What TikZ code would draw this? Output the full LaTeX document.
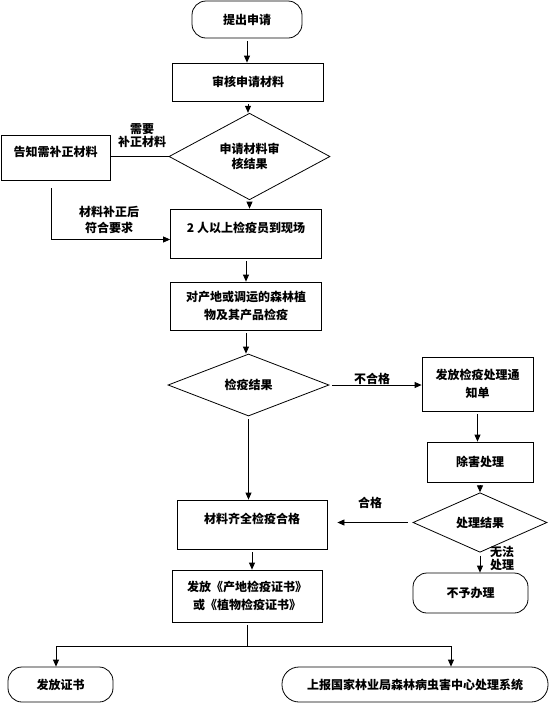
\documentclass[tikz,border=0pt]{standalone}
\usepackage{fontspec}
\setmainfont{Noto Sans CJK SC}
\usetikzlibrary{positioning,arrows.meta,shapes.geometric,calc}

\begin{document}
\begin{tikzpicture}[x=1pt,y=-1pt,line width=0.8pt,font=\bfseries\fontsize{12}{18}\selectfont,
    box/.style={draw,inner sep=0pt,minimum width=151pt,minimum height=38pt,align=center},
    term/.style={draw,rounded corners=14pt,inner sep=0pt,minimum height=37pt,align=center},
    decision/.style={draw,diamond,inner sep=0pt,minimum width=161pt,minimum height=61pt,align=center,font=\bfseries\fontsize{12}{15}\selectfont},
    raised/.style={text depth=13pt},
    flow/.style={-{Triangle[length=7pt,width=6pt]},shorten <=3pt}]
  \useasboundingbox (0,0) rectangle (549,705);
  % main column
  \node[term,minimum width=110pt] (start) at (247,19.5) {提出申请};
  \node[box] (check) at (248,82) {审核申请材料};
  \node[decision] (rev) at (249.5,156.5) {申请材料审\\核结果};
  \node[box,raised,minimum width=109pt,minimum height=45pt] (notify) at (55.5,157.5) {告知需补正材料};
  \node[box,raised,minimum height=49pt] (site) at (246,233.5) {2 人以上检疫员到现场};
  \node[box,minimum height=48pt] (insp) at (246,306) {对产地或调运的森林植\\物及其产品检疫};
  \node[decision,minimum height=62pt] (res) at (248.5,385) {检疫结果};
  % right branch
  \node[box,minimum width=111pt,minimum height=54pt] (notice) at (477.5,384) {发放检疫处理通\\知单};
  \node[box,minimum width=106pt,minimum height=40pt] (treat) at (480,462) {除害处理};
  \node[decision,minimum width=134pt,minimum height=45pt] (tres) at (480,522.5) {处理结果};
  \node[term,minimum width=115pt,minimum height=40pt] (deny) at (470.5,593) {不予办理};
  % result
  \node[box,raised,minimum width=150pt,minimum height=49pt] (pass) at (252,524.5) {材料齐全检疫合格};
  \node[box,minimum width=150pt,minimum height=52pt] (cert) at (247,596) {发放《产地检疫证书》\\或《植物检疫证书》};
  \node[term,minimum width=105pt,minimum height=35pt] (issue) at (60.5,684.5) {发放证书};
  \node[term,rounded corners=17pt,minimum width=266pt,minimum height=35pt] (report) at (415,684.5) {上报国家林业局森林病虫害中心处理系统};
  % labels
  \node[align=center,font=\bfseries\fontsize{12}{13}\selectfont] (lneed) at (142,136) {需要\\补正材料};
  \node[align=center,font=\bfseries\fontsize{12}{16}\selectfont] (lok) at (109,220) {材料补正后\\符合要求};
  \node (lfail) at (372,379) {不合格};
  \node (lpass) at (370,503) {合格};
  \node[align=center,font=\bfseries\fontsize{12}{13}\selectfont] (lno) at (502,558) {无法\\处理};
  % connectors
  \draw[flow] (start.south) -- (start.south |- check.north);
  \draw[flow] (check.south) -- (check.south |- rev.north);
  \draw (rev.west) -- (rev.west -| notify.east);
  \draw[flow,shorten <=8pt] ([xshift=-4.5pt]notify.south) |- ([yshift=-6pt]site.west);
  \draw[flow] (rev.south) -- (rev.south |- site.north);
  \draw[flow] (site.south) -- (insp.north);
  \draw[flow] (insp.south) -- (insp.south |- res.north);
  \draw[flow] (res.east) -- (res.east -| notice.west);
  \draw[flow] (notice.south) -- (notice.south |- treat.north);
  \draw[flow] (treat.south) -- (tres.north);
  \draw[flow,shorten <=5pt,shorten >=10pt] (tres.west) -- (tres.west -| pass.east);
  \draw[flow] (tres.south) -- (tres.south |- deny.north);
  \draw[flow] (res.south) -- (res.south |- pass.north);
  \draw[flow] (pass.south) -- (pass.south |- cert.north);
  \draw[shorten <=3pt] (cert.south) -- ++(0,24) coordinate (split);
  \draw[flow,shorten <=0pt] (split) -| ([xshift=-4.5pt]issue.north);
  \draw[flow,shorten <=0pt] (split) -| ([xshift=36pt]report.north);
\end{tikzpicture}
\end{document}
